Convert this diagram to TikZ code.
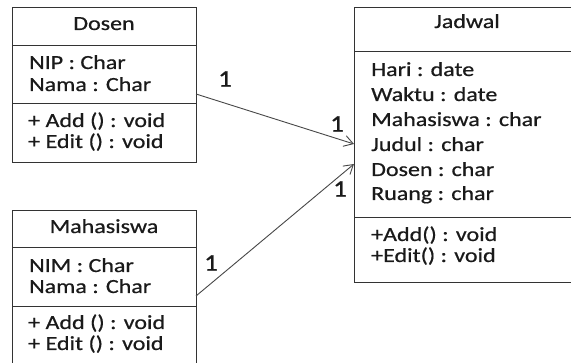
\documentclass[tikz,border=0pt]{standalone}
\usepackage{fontspec}
\setmainfont{Carlito}[FakeStretch=1.2,FakeBold=0.6]
\newfontfamily\labelfont{Carlito}[FakeStretch=1.1,FakeBold=1]
\usetikzlibrary{arrows.meta}

\definecolor{inkline}{HTML}{333333}
\definecolor{inktext}{HTML}{1A1A1A}

\tikzset{
  umlbox/.style={draw=inkline, line width=1pt, rectangle, inner sep=0pt, anchor=north west},
  divider/.style={draw=inkline, line width=1pt},
  member/.style={anchor=base west, inner sep=0pt, text=inktext, font=\fontsize{20}{24}\selectfont},
  classname/.style={anchor=base, inner sep=0pt, text=inktext, font=\fontsize{20}{24}\selectfont},
  assoc/.style={draw=inkline!90, line width=0.9pt, -{Straight Barb[length=9pt,width=11pt]}},
  mult/.style={inner sep=0pt, text=inktext, font=\labelfont\fontsize{24}{26}\selectfont}
}

\begin{document}
\begin{tikzpicture}[x=1pt,y=-1pt]
\useasboundingbox (0,0) rectangle (571,363);
\clip (0,0) rectangle (571,363);
\fill[white] (0,0) rectangle (571,363);

% Dosen class
\node[umlbox, minimum width=184pt, minimum height=155pt] (dosen) at (12,7) {};
\draw[divider] (12,46) -- (196,46);
\draw[divider] (12,104) -- (196,104);
\node[classname] (dosenTitle) at (104,30) {Dosen};
\node[member] (dosenA1) at (29,69) {NIP : Char};
\node[member] (dosenA2) at (29,91) {Nama : Char};
\node[member] (dosenM1) at (28,127) {+ Add () : void};
\node[member] (dosenM2) at (28,148) {+ Edit () : void};

% Mahasiswa class (runs past the lower edge)
\node[umlbox, minimum width=184pt, minimum height=170pt] (mhs) at (12,210) {};
\draw[divider] (12,248) -- (196,248);
\draw[divider] (12,307) -- (196,307);
\node[classname] (mhsTitle) at (104,233) {Mahasiswa};
\node[member] (mhsA1) at (29,272) {NIM : Char};
\node[member] (mhsA2) at (29,293) {Nama : Char};
\node[member] (mhsM1) at (28,329) {+ Add () : void};
\node[member] (mhsM2) at (28,350) {+ Edit () : void};

% Jadwal class (runs past the right edge)
\node[umlbox, minimum width=225pt, minimum height=275pt] (jadwal) at (354,7) {};
\draw[divider] (354,52) -- (579,52);
\draw[divider] (354,218) -- (579,218);
\node[classname] (jadwalTitle) at (467,28) {Jadwal};
\node[member] (jA1) at (371,76) {Hari : date};
\node[member] (jA2) at (371,101) {Waktu : date};
\node[member] (jA3) at (371,126) {Mahasiswa : char};
\node[member] (jA4) at (371,151) {Judul : char};
\node[member] (jA5) at (371,176) {Dosen : char};
\node[member] (jA6) at (371,200) {Ruang : char};
\node[member] (jM1) at (371,241) {+Add() : void};
\node[member] (jM2) at (371,262) {+Edit() : void};

% association end points on the class borders
\coordinate (dosenEnd) at (196,94);
\coordinate (mhsEnd) at (196,296);
\coordinate (jadwalTop) at (354,144);
\coordinate (jadwalLow) at (354,164);

\draw[assoc] (dosenEnd) -- (jadwalTop);
\draw[assoc] (mhsEnd) -- (jadwalLow);

% multiplicities
\node[mult] (m1) at (225,79) {1};
\node[mult] (m2) at (337,124) {1};
\node[mult] (m3) at (340,189) {1};
\node[mult] (m4) at (211,263) {1};
\end{tikzpicture}
\end{document}
